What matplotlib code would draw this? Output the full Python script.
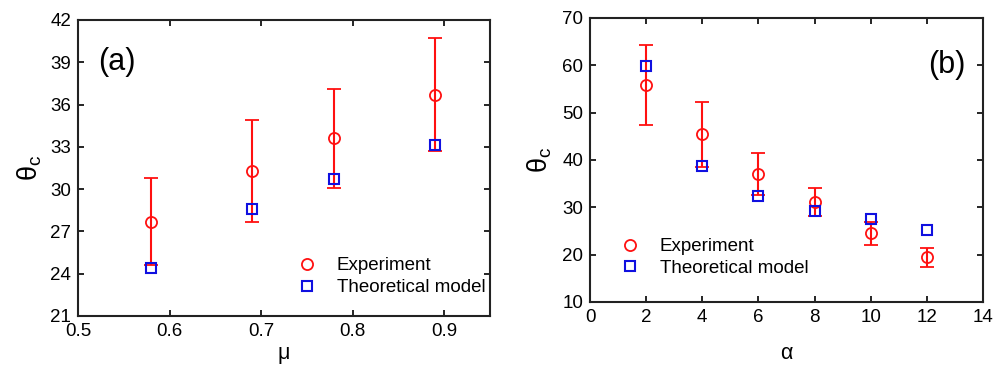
import numpy as np
import matplotlib.pyplot as plt
from matplotlib.lines import Line2D

plt.rcParams['font.family'] = ['Liberation Sans', 'DejaVu Sans']

# panel (a): friction coefficient
mu = [0.58, 0.69, 0.78, 0.89]
exp_a = [27.7, 31.3, 33.6, 36.7]
err_a = [3.1, 3.6, 3.5, 4.0]
theo_a = [24.4, 28.6, 30.7, 33.1]

# panel (b): alpha
alpha = [2, 4, 6, 8, 10, 12]
exp_b = [55.9, 45.4, 37.0, 31.1, 24.5, 19.5]
err_b = [8.5, 6.8, 4.4, 3.0, 2.5, 2.0]
theo_b = [59.9, 38.8, 32.4, 29.3, 27.5, 25.3]

RED = '#ff1010'
BLUE = '#1010e0'
FS = 13.5


def style_axes(ax):
    ax.tick_params(direction='in', top=True, right=True, length=4,
                   width=1.2, labelsize=FS, pad=5)
    for spine in ax.spines.values():
        spine.set_linewidth(1.5)
        spine.set_color('#222222')


def draw_panel(ax, x, ye, err, yt):
    ax.errorbar(x, ye, yerr=err, fmt='o', color=RED, mfc='none',
                mec=RED, ms=8, mew=1.3, elinewidth=1.5, capsize=5,
                capthick=1.5, zorder=2)
    ax.plot(x, yt, 's', color=BLUE, mfc='none', mec=BLUE, ms=7, mew=1.5,
            zorder=3)


def add_legend(ax, **kw):
    handles = [
        Line2D([], [], ls='none', marker='o', mfc='none', mec=RED, ms=8,
               mew=1.3),
        Line2D([], [], ls='none', marker='s', mfc='none', mec=BLUE, ms=7,
               mew=1.5),
    ]
    ax.legend(handles, ['Experiment', 'Theoretical model'], frameon=False,
              fontsize=FS, handletextpad=0.6, labelspacing=0.25,
              borderaxespad=0.1, **kw)


fig = plt.figure(figsize=(9.93, 3.67), dpi=100)

# (a)
ax1 = fig.add_axes([78 / 993, 1 - 316 / 367, 412 / 993, 296 / 367])
draw_panel(ax1, mu, exp_a, err_a, theo_a)
ax1.set_xlim(0.5, 0.95)
ax1.set_ylim(21, 42)
ax1.set_xticks([0.5, 0.6, 0.7, 0.8, 0.9])
ax1.set_yticks(np.arange(21, 43, 3))
style_axes(ax1)
ax1.set_xlabel('μ', fontsize=FS + 2, labelpad=2)
ax1.set_ylabel(r'$\mathregular{\theta_c}$', fontsize=FS + 6, labelpad=4)
ax1.text(0.05, 0.83, '(a)', transform=ax1.transAxes, fontsize=22)
add_legend(ax1, loc='lower right', bbox_to_anchor=(1.012, 0.035))

# (b)
ax2 = fig.add_axes([590 / 993, 1 - 302 / 367, 393 / 993, 284 / 367])
draw_panel(ax2, alpha, exp_b, err_b, theo_b)
ax2.set_xlim(0, 14)
ax2.set_ylim(10, 70)
ax2.set_xticks(np.arange(0, 15, 2))
ax2.set_yticks(np.arange(10, 71, 10))
style_axes(ax2)
ax2.set_xlabel('α', fontsize=FS + 2, labelpad=12)
ax2.set_ylabel(r'$\mathregular{\theta_c}$', fontsize=FS + 6, labelpad=6)
ax2.text(0.86, 0.805, '(b)', transform=ax2.transAxes, fontsize=22)
add_legend(ax2, loc='lower left', bbox_to_anchor=(0.03, 0.055))

fig.savefig('out.png', dpi=100)
